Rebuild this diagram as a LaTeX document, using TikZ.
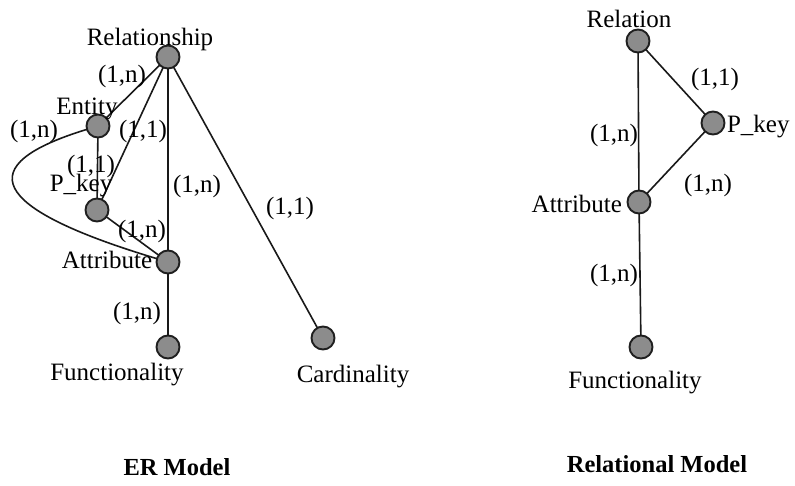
\documentclass[tikz,border=0pt]{standalone}
\usepackage{fontspec}
\setmainfont{Liberation Serif}
\begin{document}
\begin{tikzpicture}[x=1pt,y=-1pt,
  every node/.style={inner sep=0pt, outer sep=0pt},
  dot/.style={circle, minimum size=23pt, line width=1.9pt,
    draw=black!88, fill=black!45},
  txt/.style={font=\fontsize{25}{30}\selectfont, text height=0.68em, text depth=0.2em, yshift=-5pt},
  title/.style={font=\fontsize{24.5}{30}\selectfont\bfseries, text height=0.68em, text depth=0.2em, yshift=-3pt},
  link/.style={line width=1.6pt, draw=black!90}]
\useasboundingbox (0,0) rectangle (795,486);

% ---------- ER model ----------
\node[dot] (rel)  at (168,57)  {};
\node[dot] (ent)  at (98,126)  {};
\node[dot] (pk)   at (97,210)  {};
\node[dot] (att)  at (168,262) {};
\node[dot] (fun)  at (168,347) {};
\node[dot] (card) at (323,338) {};

\draw[link] (rel) -- (ent);
\draw[link] (rel) -- (pk);
\draw[link] (rel) -- (att);
\draw[link] (rel) -- (card);
\draw[link] (ent) -- (pk);
\draw[link] (pk) -- (att);
\draw[link] (ent) .. controls (-30,165) and (-12,208) .. (att);
\draw[link] (att) -- (fun);

\node[txt] (relT)  at (150,38)  {Relationship};
\node[txt] (entT)  at (87,107)  {Entity};
\node[txt] (pkT)   at (81,184)  {P\_key};
\node[txt] (attT)  at (107,261) {Attribute};
\node[txt] (funT)  at (117,373) {Functionality};
\node[txt] (cardT) at (353,375) {Cardinality};

\node[txt] (e1) at (122,75)  {(1,n)};
\node[txt] (e2) at (34,130)  {(1,n)};
\node[txt] (e3) at (143,130) {(1,1)};
\node[txt] (e4) at (91,165)  {(1,1)};
\node[txt] (e5) at (197,185) {(1,n)};
\node[txt] (e6) at (142,230) {(1,n)};
\node[txt] (e7) at (290,207) {(1,1)};
\node[txt] (e8) at (137,312) {(1,n)};

\node[title] (erT) at (177,470) {ER Model};

% ---------- Relational model ----------
\node[dot] (rrel) at (638,41)  {};
\node[dot] (rpk)  at (713,123) {};
\node[dot] (ratt) at (639,202) {};
\node[dot] (rfun) at (641,347) {};

\draw[link] (rrel) -- (rpk);
\draw[link] (rrel) -- (ratt);
\draw[link] (rpk) -- (ratt);
\draw[link] (ratt) -- (rfun);

\node[txt] (rrelT) at (629,20)  {Relation};
\node[txt, anchor=west] (rpkT) at (727,125) {P\_key};
\node[txt, anchor=east] (rattT) at (622,205) {Attribute};
\node[txt] (rfunT) at (635,381) {Functionality};

\node[txt] (r1) at (715,78)  {(1,1)};
\node[txt] (r2) at (614,134) {(1,n)};
\node[txt] (r3) at (708,184) {(1,n)};
\node[txt] (r4) at (614,274) {(1,n)};

\node[title] (rmT) at (657,467) {Relational Model};
\end{tikzpicture}
\end{document}
